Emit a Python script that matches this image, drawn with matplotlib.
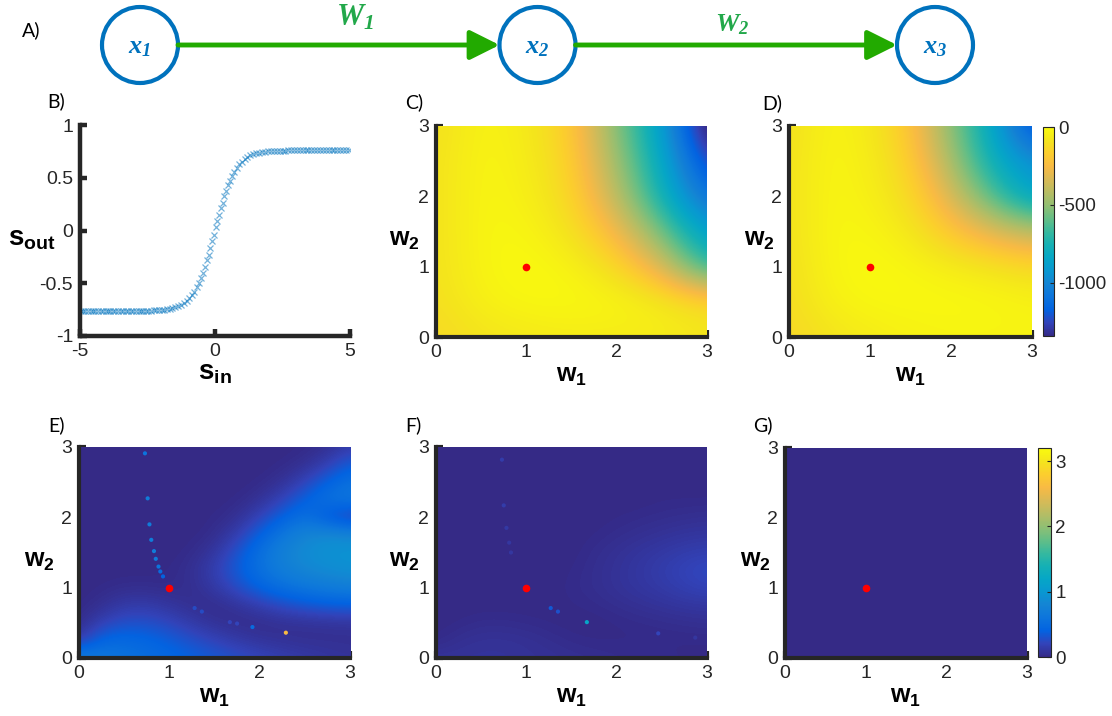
import numpy as np
import matplotlib
matplotlib.use('Agg')
import matplotlib.pyplot as plt
from matplotlib.colors import LinearSegmentedColormap
from matplotlib.patches import Circle

plt.rcParams['font.family'] = ['Liberation Sans', 'DejaVu Sans']
plt.rcParams['axes.unicode_minus'] = False
plt.rcParams['mathtext.fontset'] = 'custom'
plt.rcParams['mathtext.rm'] = 'Liberation Sans'
plt.rcParams['mathtext.bf'] = 'Liberation Sans:bold'
plt.rcParams['mathtext.it'] = 'Liberation Serif:italic'
plt.rcParams['mathtext.bfit'] = 'Liberation Serif:italic:bold'

# --- dane ---
# A) schemat sieci
node_labels = [r'$\mathbfit{x_1}$', r'$\mathbfit{x_2}$', r'$\mathbfit{x_3}$']
weight_labels = [r'$\mathbfit{W_1}$', r'$\mathbfit{W_2}$']

# B) funkcja aktywacji (odczytane punkty)
s_in = [-4.97, -4.88, -4.80, -4.71, -4.60, -4.52, -4.43, -4.33, -4.24, -4.15,
        -4.05, -3.96, -3.88, -3.77, -3.69, -3.58, -3.50, -3.41, -3.30, -3.22,
        -3.12, -3.03, -2.94, -2.83, -2.75, -2.66, -2.55, -2.47, -2.36, -2.27,
        -2.18, -2.08, -1.98, -1.90, -1.79, -1.68, -1.58, -1.47, -1.38, -1.27,
        -1.16, -1.05, -0.96, -0.87, -0.78, -0.68, -0.60, -0.52, -0.45, -0.38,
        -0.30, -0.24, -0.17, -0.10, -0.04, 0.03, 0.09, 0.15, 0.22, 0.28,
        0.35, 0.42, 0.49, 0.56, 0.64, 0.72, 0.80, 0.90, 0.99, 1.10,
        1.20, 1.31, 1.42, 1.53, 1.64, 1.75, 1.86, 1.97, 2.08, 2.19,
        2.29, 2.40, 2.50, 2.61, 2.72, 2.82, 2.93, 3.04, 3.14, 3.25,
        3.36, 3.46, 3.57, 3.68, 3.79, 3.89, 4.00, 4.10, 4.21, 4.32,
        4.42, 4.53, 4.64, 4.74, 4.85, 4.96]
s_out = [-0.76, -0.76, -0.76, -0.76, -0.76, -0.76, -0.76, -0.76, -0.76, -0.76,
         -0.76, -0.76, -0.76, -0.76, -0.76, -0.76, -0.76, -0.76, -0.76, -0.76,
         -0.76, -0.76, -0.76, -0.76, -0.76, -0.76, -0.76, -0.76, -0.76, -0.755,
         -0.755, -0.753, -0.75, -0.75, -0.746, -0.74, -0.735, -0.727, -0.72, -0.706,
         -0.69, -0.667, -0.644, -0.616, -0.583, -0.54, -0.50, -0.448, -0.40, -0.348,
         -0.282, -0.23, -0.165, -0.098, -0.04, 0.03, 0.088, 0.146, 0.212, 0.265,
         0.324, 0.378, 0.428, 0.473, 0.518, 0.557, 0.591, 0.626, 0.653, 0.678,
         0.696, 0.711, 0.723, 0.732, 0.739, 0.744, 0.748, 0.751, 0.753, 0.755,
         0.756, 0.757, 0.758, 0.758, 0.759, 0.759, 0.76, 0.76, 0.76, 0.76,
         0.76, 0.76, 0.76, 0.76, 0.76, 0.76, 0.76, 0.76, 0.76, 0.76,
         0.76, 0.76, 0.76, 0.76, 0.76, 0.76]

# prawdziwe wagi (czerwony punkt)
true_w1, true_w2 = 1.0, 1.0

# C) i D) log-wiarygodnosc, siatka w1, w2 = 0, 0.5, ..., 3 (wiersze: w2 od 0)
loglik_c = np.array([
    [-130, -90, -70, -60, -60, -60, -80],
    [-110, -40, -15, -10, -20, -50, -110],
    [-100, -25, -5, -30, -120, -320, -720],
    [-100, -20, -20, -90, -260, -560, -900],
    [-100, -20, -40, -130, -400, -760, -1130],
    [-100, -20, -50, -150, -470, -820, -1280],
    [-110, -25, -60, -170, -530, -870, -1450],
])
loglik_d = np.array([
    [-140, -90, -60, -40, -30, -30, -30],
    [-120, -40, -15, -10, -10, -15, -30],
    [-110, -25, -5, -20, -50, -80, -120],
    [-100, -20, -20, -70, -190, -310, -400],
    [-100, -20, -40, -120, -330, -620, -880],
    [-100, -20, -50, -160, -450, -780, -960],
    [-110, -25, -60, -200, -520, -830, -1260],
])
loglik_ticks = [-1000, -500, 0]

# E) i F) siatka w1, w2 = 0, 0.25, ..., 3 (wiersze: w2 od 0)
err_e = np.array([
    [0.75, 0.66, 0.58, 0.52, 0.46, 0.40, 0.34, 0.28, 0.22, 0.17, 0.13, 0.10, 0.08],
    [0.12, 0.45, 0.48, 0.44, 0.37, 0.28, 0.20, 0.13, 0.08, 0.06, 0.05, 0.05, 0.05],
    [0.02, 0.18, 0.28, 0.28, 0.22, 0.13, 0.06, 0.03, 0.03, 0.05, 0.06, 0.07, 0.08],
    [0.00, 0.05, 0.13, 0.14, 0.09, 0.04, 0.03, 0.08, 0.16, 0.25, 0.32, 0.36, 0.38],
    [0.00, 0.01, 0.03, 0.03, 0.02, 0.04, 0.12, 0.26, 0.42, 0.54, 0.62, 0.68, 0.72],
    [0.00, 0.00, 0.00, 0.00, 0.01, 0.05, 0.17, 0.36, 0.56, 0.72, 0.82, 0.88, 0.92],
    [0.00, 0.00, 0.00, 0.00, 0.00, 0.02, 0.10, 0.30, 0.55, 0.76, 0.88, 0.94, 0.96],
    [0.00, 0.00, 0.00, 0.00, 0.00, 0.00, 0.03, 0.16, 0.40, 0.63, 0.80, 0.86, 0.82],
    [0.00, 0.00, 0.00, 0.00, 0.00, 0.00, 0.01, 0.05, 0.20, 0.40, 0.56, 0.30, 0.12],
    [0.00, 0.00, 0.00, 0.00, 0.00, 0.00, 0.00, 0.01, 0.06, 0.20, 0.40, 0.58, 0.64],
    [0.00, 0.00, 0.00, 0.00, 0.00, 0.00, 0.00, 0.00, 0.01, 0.06, 0.20, 0.40, 0.56],
    [0.00, 0.00, 0.00, 0.00, 0.00, 0.00, 0.00, 0.00, 0.00, 0.01, 0.05, 0.17, 0.36],
    [0.00, 0.00, 0.00, 0.00, 0.00, 0.00, 0.00, 0.00, 0.00, 0.00, 0.01, 0.04, 0.14],
])
err_f = np.array([
    [0.08, 0.08, 0.08, 0.08, 0.07, 0.06, 0.05, 0.04, 0.03, 0.02, 0.02, 0.01, 0.01],
    [0.01, 0.05, 0.07, 0.07, 0.06, 0.04, 0.02, 0.01, 0.01, 0.01, 0.01, 0.01, 0.01],
    [0.00, 0.01, 0.03, 0.03, 0.02, 0.01, 0.00, 0.00, 0.01, 0.02, 0.03, 0.04, 0.05],
    [0.00, 0.00, 0.00, 0.00, 0.00, 0.00, 0.01, 0.02, 0.04, 0.06, 0.08, 0.10, 0.11],
    [0.00, 0.00, 0.00, 0.00, 0.00, 0.00, 0.02, 0.04, 0.07, 0.10, 0.13, 0.17, 0.20],
    [0.00, 0.00, 0.00, 0.00, 0.00, 0.00, 0.01, 0.04, 0.07, 0.11, 0.15, 0.20, 0.24],
    [0.00, 0.00, 0.00, 0.00, 0.00, 0.00, 0.00, 0.03, 0.06, 0.09, 0.12, 0.15, 0.17],
    [0.00, 0.00, 0.00, 0.00, 0.00, 0.00, 0.00, 0.01, 0.03, 0.05, 0.07, 0.09, 0.10],
    [0.00, 0.00, 0.00, 0.00, 0.00, 0.00, 0.00, 0.00, 0.01, 0.02, 0.03, 0.04, 0.05],
    [0.00, 0.00, 0.00, 0.00, 0.00, 0.00, 0.00, 0.00, 0.00, 0.00, 0.01, 0.01, 0.01],
    [0.00, 0.00, 0.00, 0.00, 0.00, 0.00, 0.00, 0.00, 0.00, 0.00, 0.00, 0.00, 0.00],
    [0.00, 0.00, 0.00, 0.00, 0.00, 0.00, 0.00, 0.00, 0.00, 0.00, 0.00, 0.00, 0.00],
    [0.00, 0.00, 0.00, 0.00, 0.00, 0.00, 0.00, 0.00, 0.00, 0.00, 0.00, 0.00, 0.00],
])
# G) wszedzie zero
err_g = np.array([[0.0, 0.0], [0.0, 0.0]])
err_ticks = [0, 1, 2, 3]

# pojedyncze plamki w E i F
e_dot_w1 = [0.73, 0.76, 0.78, 0.80, 0.83, 0.85, 0.88, 0.90, 0.93, 1.28, 1.36, 1.67, 1.75, 1.92, 2.29]
e_dot_w2 = [2.91, 2.27, 1.90, 1.68, 1.52, 1.41, 1.30, 1.23, 1.16, 0.71, 0.66, 0.51, 0.49, 0.44, 0.36]
e_dot_val = [0.6, 0.7, 0.7, 0.7, 0.7, 0.65, 0.6, 0.5, 0.4, 0.25, 0.25, 0.2, 0.2, 0.5, 2.6]
f_dot_w1 = [0.73, 0.75, 0.78, 0.81, 0.83, 1.27, 1.35, 1.67, 2.46, 2.87]
f_dot_w2 = [2.82, 2.17, 1.85, 1.64, 1.50, 0.71, 0.66, 0.51, 0.35, 0.29]
f_dot_val = [0.15, 0.15, 0.12, 0.1, 0.1, 0.35, 0.3, 1.2, 0.2, 0.1]

# mapa kolorow parula (przyblizenie)
parula_pts = [(0.2081, 0.1663, 0.5292), (0.1959, 0.2645, 0.7279), (0.0117, 0.3875, 0.8820),
              (0.0498, 0.4586, 0.8641), (0.0793, 0.5200, 0.8312), (0.0343, 0.5966, 0.8199),
              (0.0228, 0.6535, 0.7768), (0.0843, 0.6928, 0.7062), (0.2178, 0.7250, 0.6193),
              (0.3953, 0.7459, 0.5244), (0.5709, 0.7485, 0.4494), (0.7184, 0.7411, 0.3905),
              (0.8507, 0.7299, 0.3360), (0.9739, 0.7314, 0.2666), (0.9880, 0.8066, 0.1794),
              (0.9589, 0.8949, 0.1132), (0.9763, 0.9831, 0.0538)]
parula = LinearSegmentedColormap.from_list('parula', parula_pts)

W, H = 1112, 716
DARK = '#262626'
BLUE = '#0072BD'
GREEN = '#22AA00'


def rect(l, t, r, b):
    return [l / W, 1 - b / H, (r - l) / W, (b - t) / H]


fig = plt.figure(figsize=(W / 100, H / 100), dpi=100)

# --- A) ---
ax_a = fig.add_axes(rect(0, 0, W, 90))
scale = 397.5
ax_a.set_xlim(-140 / scale, (W - 140) / scale)
ax_a.set_ylim(-45 / scale, 45 / scale)
ax_a.axis('off')
r = 38 / scale
for i, lab in enumerate(node_labels):
    ax_a.add_patch(Circle((i, 0), r, fill=False, ec=BLUE, lw=3))
    ax_a.text(i, -0.005, lab, color=BLUE, fontsize=19, ha='center', va='center')
for i, lab in enumerate(weight_labels):
    ax_a.annotate('', xy=(i + 1 - r, 0), xytext=(i + r, 0),
                  arrowprops=dict(arrowstyle='-|>,head_length=0.9,head_width=0.45',
                                  color=GREEN, lw=3.5, mutation_scale=20,
                                  shrinkA=0, shrinkB=0))
ax_a.text(0.54, 0.068, weight_labels[0], color='#22A84A', fontsize=22, ha='center', va='center')
ax_a.text(1.49, 0.052, weight_labels[1], color='#22A84A', fontsize=19, ha='center', va='center')


def style_axes(ax, lw=3):
    for s in ['top', 'right']:
        ax.spines[s].set_visible(False)
    for s in ['left', 'bottom']:
        ax.spines[s].set_linewidth(lw)
        ax.spines[s].set_color(DARK)
        ax.spines[s].set_zorder(5)
    ax.tick_params(direction='in', length=5, width=lw, colors=DARK, labelsize=14, pad=5)


# --- B) ---
ax_b = fig.add_axes(rect(80, 125, 350, 336))
ax_b.plot(s_in, s_out, 'x', color=BLUE, ms=5, mew=0.9, alpha=0.55)
ax_b.set_xlim(-5, 5)
ax_b.set_ylim(-1, 1)
ax_b.set_xticks([-5, 0, 5])
ax_b.set_yticks([-1, -0.5, 0, 0.5, 1])
ax_b.set_yticklabels(['-1', '-0.5', '0', '0.5', '1'])
style_axes(ax_b, lw=3.2)
ax_b.set_xlabel(r'$\mathbf{s_{in}}$', fontsize=20, labelpad=0)
ax_b.set_ylabel(r'$\mathbf{s_{out}}$', fontsize=20, rotation=0, ha='right', va='center')
ax_b.yaxis.set_label_coords(-0.09, 0.46)


def heat(box, grid, vmin, vmax, dots=None, ylab_x=-0.06):
    ax = fig.add_axes(rect(*box))
    n = grid.shape[0]
    half = 3 / (n - 1) / 2
    im = ax.imshow(grid, origin='lower', extent=(-half, 3 + half, -half, 3 + half),
                   cmap=parula, vmin=vmin, vmax=vmax, interpolation='bicubic',
                   aspect='auto', zorder=1)
    if dots is not None:
        ax.scatter(dots[0], dots[1], c=dots[2], cmap=parula, vmin=vmin, vmax=vmax,
                   s=9, marker='o', linewidths=0, zorder=2)
    ax.plot(true_w1, true_w2, 'o', color='red', ms=5.5, mew=0, zorder=3)
    ax.set_xlim(0, 3)
    ax.set_ylim(0, 3)
    ax.set_xticks([0, 1, 2, 3])
    ax.set_yticks([0, 1, 2, 3])
    ax.set_axisbelow(True)
    style_axes(ax)
    ax.set_xlabel(r'$\mathbf{w_1}$', fontsize=18, labelpad=2)
    ax.set_ylabel(r'$\mathbf{w_2}$', fontsize=18, rotation=0, ha='right', va='center')
    ax.yaxis.set_label_coords(ylab_x, 0.46)
    return ax, im


ax_c, _ = heat((436, 126, 707, 337), loglik_c, -1340, 0)
ax_d, im_d = heat((789, 126, 1032, 337), loglik_d, -1340, 0)
ax_e, _ = heat((79, 447, 350, 658), err_e, 0, 3.2, (e_dot_w1, e_dot_w2, e_dot_val), ylab_x=-0.09)
ax_f, _ = heat((436, 447, 707, 658), err_f, 0, 3.2, (f_dot_w1, f_dot_w2, f_dot_val))
ax_g, im_g = heat((785, 448, 1027, 658), err_g, 0, 3.2)

for box, im, ticks in [((1043, 127, 1054, 336), im_d, loglik_ticks),
                       ((1038, 448, 1051, 657), im_g, err_ticks)]:
    cax = fig.add_axes(rect(*box))
    cb = fig.colorbar(im, cax=cax, ticks=ticks)
    cb.outline.set_linewidth(0.8)
    cb.outline.set_edgecolor(DARK)
    cax.tick_params(direction='in', length=3, width=0.8, colors=DARK, labelsize=13.5, pad=3)

# etykiety paneli
for lab, x, y in [('A)', 22, 30), ('B)', 47, 101), ('C)', 405, 102), ('D)', 762, 103),
                  ('E)', 48, 425), ('F)', 405, 425), ('G)', 753, 425)]:
    fig.text(x / W, 1 - y / H, lab, fontsize=14, family=['Lato', 'DejaVu Sans'],
             ha='left', va='center', color='black')

fig.savefig('out.png', dpi=100)
